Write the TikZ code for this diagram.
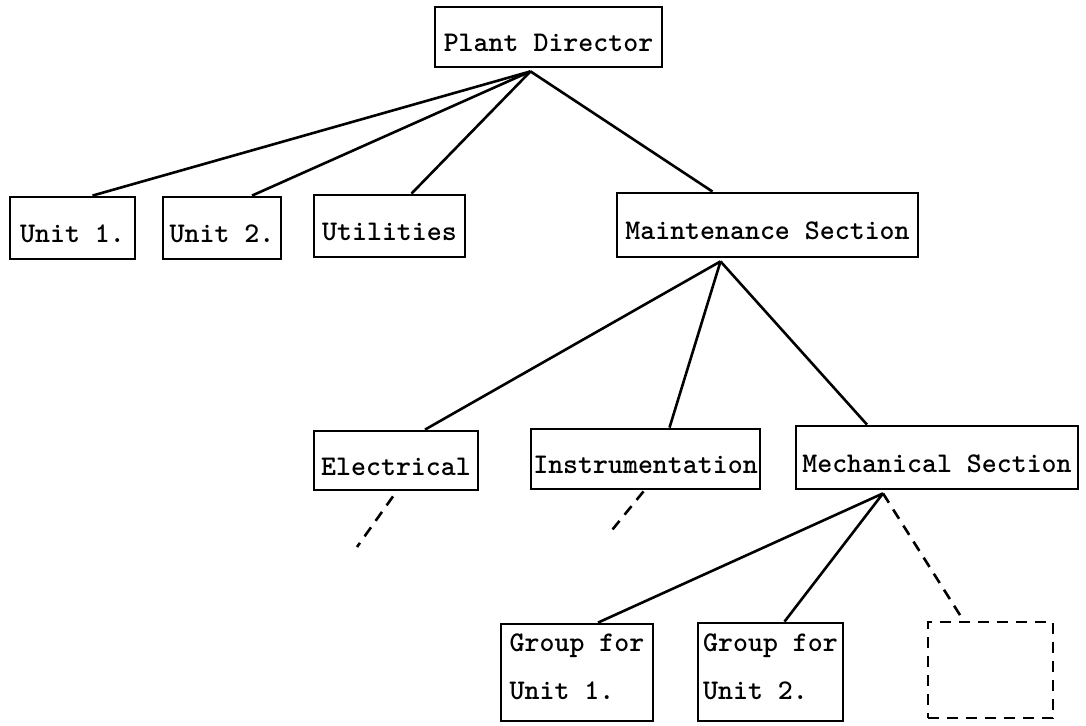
\documentclass[tikz,border=0pt]{standalone}
\begin{document}
\begin{tikzpicture}[x=1pt,y=-1pt,
  box/.style={draw, rectangle, line width=2.8pt, inner sep=0pt,
    font=\ttfamily\bfseries\fontsize{28.5pt}{48pt}\selectfont},
  onerow/.style={text height=29pt, text depth=0pt},
  link/.style={line width=2.6pt},
  dashlink/.style={line width=2.6pt, dash pattern=on 11pt off 8pt}]
\useasboundingbox (0,0) rectangle (1086,725);

% top level
\node[box, onerow, minimum width=227pt, minimum height=60pt] (director) at (548.5,37) {Plant Director};
\node[box, onerow, minimum width=125pt, minimum height=62pt] (unit1) at (72.5,228) {Unit 1.};
\node[box, onerow, minimum width=118pt, minimum height=62pt] (unit2) at (222,228) {Unit 2.};
\node[box, onerow, minimum width=151pt, minimum height=62pt] (util) at (389.5,226) {Utilities};
\node[box, onerow, minimum width=301pt, minimum height=64pt] (maint) at (767.5,225) {Maintenance Section};

% maintenance
\node[box, onerow, minimum width=164pt, minimum height=59pt] (elec) at (396,460.5) {Electrical};
\node[box, onerow, minimum width=229pt, minimum height=60pt] (instr) at (645.5,459) {Instrumentation};
\node[box, onerow, minimum width=282pt, minimum height=63pt] (mech) at (937,457.5) {Mechanical Section};

% mechanical groups
\node[box, align=left, minimum width=152pt, minimum height=97pt] (group1) at (577,672.5) {Group for\\Unit 1.\rule[-11pt]{0pt}{11pt}};
\node[box, align=left, minimum width=145pt, minimum height=98pt] (group2) at (770.5,672) {Group for\\Unit 2.\rule[-11pt]{0pt}{11pt}};
\node[box, dash pattern=on 11pt off 8pt, minimum width=125pt, minimum height=96pt] (blank) at (990.5,670) {};

\coordinate (dirfoot) at ([xshift=-18pt,yshift=-3pt]director.south);
\coordinate (mntfoot) at ([xshift=-47pt,yshift=-3pt]maint.south);
\coordinate (mechfoot) at ([xshift=-54pt,yshift=-3pt]mech.south);
\coordinate (elecend) at (357,547);
\coordinate (instrend) at (608,535);

\draw[link] (dirfoot) -- ([xshift=20pt]unit1.north);
\draw[link] (dirfoot) -- ([xshift=30pt]unit2.north);
\draw[link] (dirfoot) -- ([xshift=22pt]util.north);
\draw[link] (dirfoot) -- ([xshift=-55pt]maint.north);

\draw[link] (mntfoot) -- ([xshift=29pt]elec.north);
\draw[link] (mntfoot) -- ([xshift=24pt]instr.north);
\draw[link] (mntfoot) -- ([xshift=-70pt]mech.north);

\draw[dashlink] ([xshift=-3pt,yshift=-5pt]elec.south) -- (elecend);
\draw[dashlink] ([xshift=-2pt,yshift=-1pt]instr.south) -- (instrend);

\draw[link] (mechfoot) -- ([xshift=21pt]group1.north);
\draw[link] (mechfoot) -- ([xshift=14pt]group2.north);
\draw[dashlink] (mechfoot) -- ([xshift=-27pt]blank.north);
\end{tikzpicture}
\end{document}
